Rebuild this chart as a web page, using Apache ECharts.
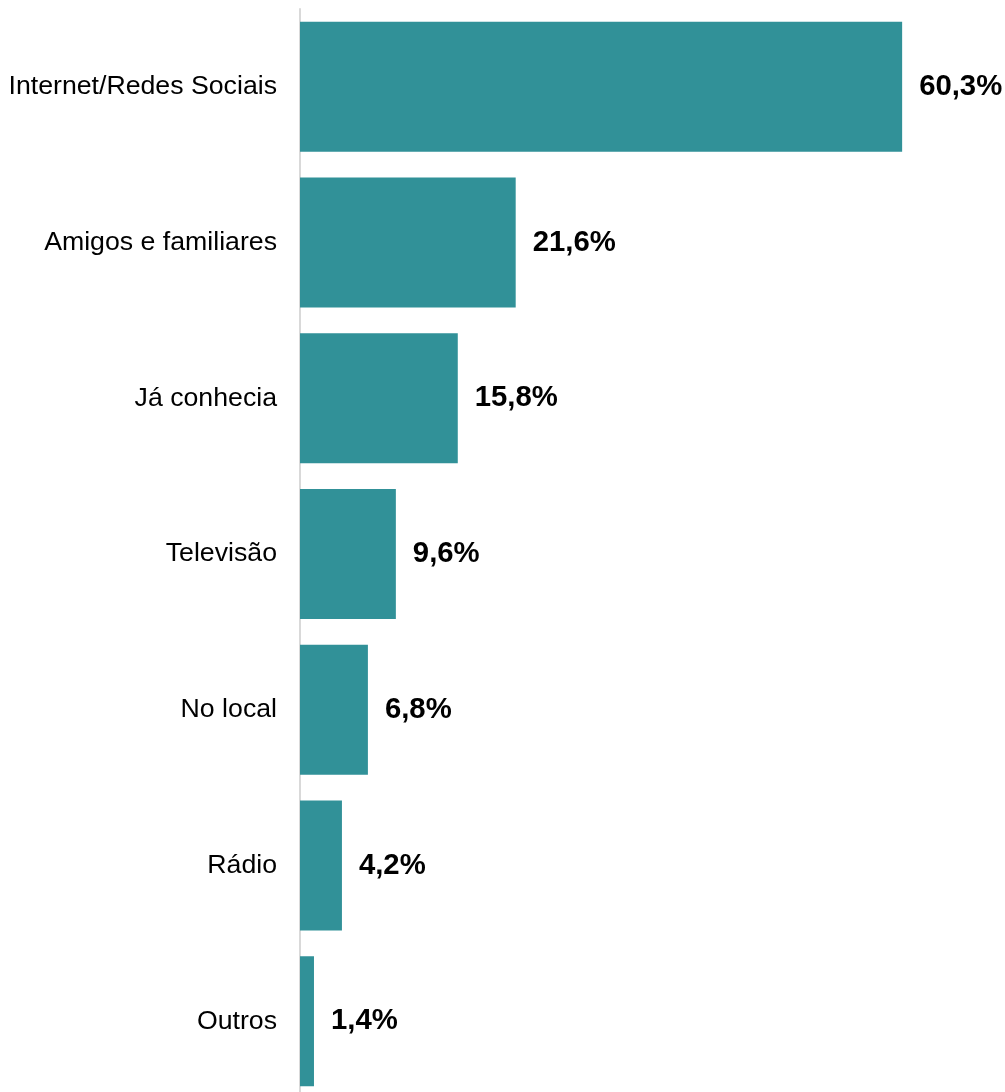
<!DOCTYPE html>
<html>
<head>
<meta charset="utf-8">
<script src="https://cdn.jsdelivr.net/npm/echarts@6/dist/echarts.min.js"></script>
<style>
  html, body { margin: 0; padding: 0; background: #ffffff; }
  #chart { width: 1005px; height: 1092px; }
</style>
</head>
<body>
<div id="chart"></div>
<script>
// Como conheceu: share of answers per source (percent)
const categories = [
  'Internet/Redes Sociais',
  'Amigos e familiares',
  'Já conhecia',
  'Televisão',
  'No local',
  'Rádio',
  'Outros'
];
const values = [60.3, 21.6, 15.8, 9.6, 6.8, 4.2, 1.4];

const chart = echarts.init(document.getElementById('chart'), null, { renderer: 'canvas' });

chart.setOption({
  animation: false,
  backgroundColor: '#ffffff',
  grid: {
    left: 300, top: 9, width: 699, height: 1090,
    containLabel: false,
    outerBoundsMode: 'none'
  },
  xAxis: {
    type: 'value',
    min: 0,
    max: 70,
    show: false
  },
  yAxis: {
    type: 'category',
    inverse: true,
    data: categories,
    axisLine: { show: true, lineStyle: { color: '#d9d9d9', width: 2 } },
    axisTick: { show: false },
    axisLabel: {
      margin: 23,
      padding: [5, 0, 0, 0],
      color: '#000000',
      fontFamily: 'Liberation Sans, Arial, sans-serif',
      fontSize: 26.7
    }
  },
  series: [{
    type: 'bar',
    data: values,
    barCategoryGap: '16.5%',
    itemStyle: { color: '#319198' },
    label: {
      show: true,
      position: 'right',
      distance: 17,
      padding: [5, 0, 0, 0],
      color: '#000000',
      fontFamily: 'Liberation Sans, Arial, sans-serif',
      fontWeight: 'bold',
      fontSize: 29.3,
      formatter: p => p.value.toFixed(1).replace('.', ',') + '%'
    }
  }]
});
</script>
</body>
</html>
